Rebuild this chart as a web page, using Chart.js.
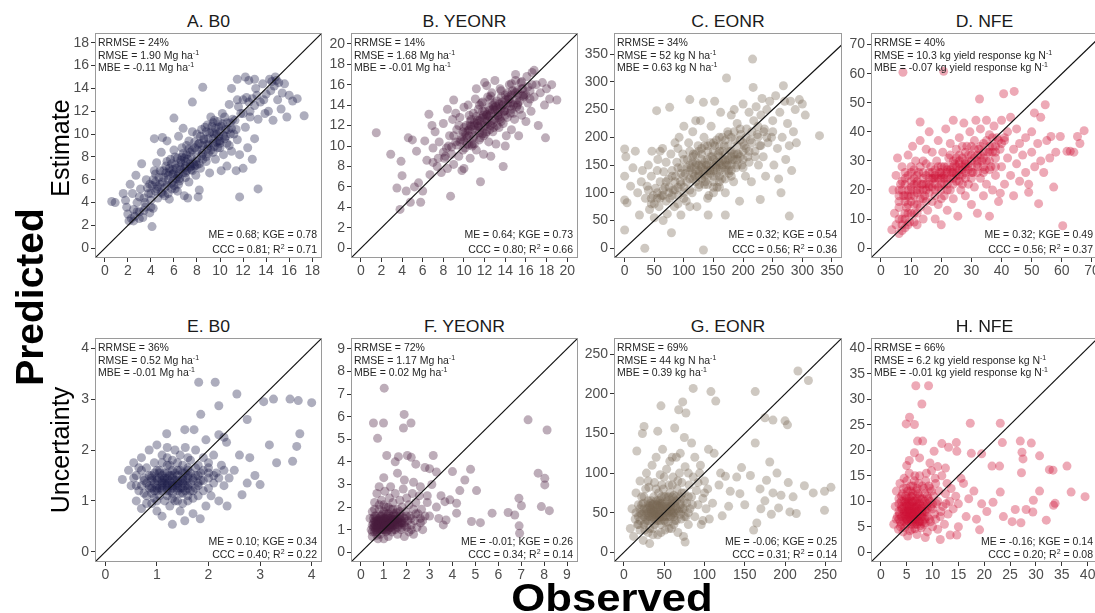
<!DOCTYPE html>
<html>
<head>
<meta charset="utf-8">
<script src="https://cdn.jsdelivr.net/npm/chart.js@4/dist/chart.umd.min.js"></script>
<style>
  body { margin:0; width:1095px; height:613px; overflow:hidden; background:#fff; position:relative;
         font-family:"Liberation Sans", Arial, Helvetica, sans-serif; }
  canvas { position:absolute; }
  .lbl { position:absolute; white-space:nowrap; line-height:1; color:#000; z-index:2; }
  .title { position:absolute; text-align:center; font-size:16px; line-height:16px; color:#1a1a1a; transform:scaleX(1.1); }
</style>
</head>
<body>
<script>
// ---- data (observed x, predicted y) ----
const titles = ['A. B0', 'B. YEONR', 'C. EONR', 'D. NFE', 'E. B0', 'F. YEONR', 'G. EONR', 'H. NFE'];

const ticksA = [0,2,4,6,8,10,12,14,16,18];
const ticksB = [0,2,4,6,8,10,12,14,16,18,20];
const ticksC = [0,50,100,150,200,250,300,350];
const ticksD = [0,10,20,30,40,50,60,70];
const ticksE = [0,1,2,3,4];
const ticksF = [0,1,2,3,4,5,6,7,8,9];
const ticksG = [0,50,100,150,200,250];
const ticksH = [0,5,10,15,20,25,30,35,40];

const notesTop = [
  ['RRMSE = 24%', 'RMSE = 1.90 Mg ha^-1^', 'MBE = -0.11 Mg ha^-1^'],
  ['RRMSE = 14%', 'RMSE = 1.68 Mg ha^-1^', 'MBE = -0.01 Mg ha^-1^'],
  ['RRMSE = 34%', 'RMSE = 52 kg N ha^-1^', 'MBE = 0.63 kg N ha^-1^'],
  ['RRMSE = 40%', 'RMSE = 10.3 kg yield response kg N^-1^', 'MBE = -0.07 kg yield response kg N^-1^'],
  ['RRMSE = 36%', 'RMSE = 0.52 Mg ha^-1^', 'MBE = -0.01 Mg ha^-1^'],
  ['RRMSE = 72%', 'RMSE = 1.17 Mg ha^-1^', 'MBE = 0.02 Mg ha^-1^'],
  ['RRMSE = 69%', 'RMSE = 44 kg N ha^-1^', 'MBE = 0.39 kg ha^-1^'],
  ['RRMSE = 66%', 'RMSE = 6.2 kg yield response kg N^-1^', 'MBE = -0.01 kg yield response kg N^-1^']
];
const notesBottom = [
  ['ME = 0.68; KGE = 0.78', 'CCC = 0.81; R^2^ = 0.71'],
  ['ME = 0.64; KGE = 0.73', 'CCC = 0.80; R^2^ = 0.66'],
  ['ME = 0.32; KGE = 0.54', 'CCC = 0.56; R^2^ = 0.36'],
  ['ME = 0.32; KGE = 0.49', 'CCC = 0.56; R^2^ = 0.37'],
  ['ME = 0.10; KGE = 0.34', 'CCC = 0.40; R^2^ = 0.22'],
  ['ME = -0.01; KGE = 0.26', 'CCC = 0.34; R^2^ = 0.14'],
  ['ME = -0.06; KGE = 0.25', 'CCC = 0.31; R^2^ = 0.14'],
  ['ME = -0.16; KGE = 0.14', 'CCC = 0.20; R^2^ = 0.08']
];

const ptsA = [[1.6,4.8],[1.8,4.2],[2.0,3.0],[2.1,2.4],[2.3,2.6],[2.5,3.4],[2.6,2.8],[2.8,4.0],[3.0,3.2],[3.1,5.2],[3.3,2.7],[3.4,4.4],[3.5,3.6],[3.6,6.0],[3.8,4.8],[3.9,3.1],[2.2,5.6],[2.7,6.4],[3.2,7.4],[2.4,4.8],[1.9,3.6],[4.0,4.2],[4.1,5.5],[4.2,3.5],[4.3,6.8],[0.6,4.1],[0.9,4.0],[4.1,1.9],
[4.4,5.0],[4.5,7.5],[4.6,4.4],[4.7,6.2],[4.8,5.6],[4.9,8.4],[5.0,4.8],[5.1,6.8],[5.2,5.3],[5.3,7.2],[5.4,9.4],[5.5,6.0],[5.6,4.3],[5.7,7.8],[5.8,5.7],[5.9,6.5],[6.0,8.6],[6.1,5.2],[6.2,7.0],[6.3,6.3],[6.4,9.8],[6.5,5.9],[6.6,7.5],[6.7,8.0],[6.8,6.6],[6.9,4.6],[7.0,7.2],[7.1,9.0],[7.2,7.8],[7.3,5.8],[7.4,8.4],[7.5,6.9],[7.6,10.2],[7.7,7.4],[7.8,8.8],[7.9,6.4],[8.0,7.9],[5.0,9.7],[4.3,9.6],[6.0,11.4],[6.8,10.5],[7.2,4.4],[8.2,5.1],[7.6,12.8],[8.5,14.1],[8.1,4.5],[5.5,4.8],[6.3,5.0],
[8.2,9.2],[8.3,7.0],[8.4,10.4],[8.5,8.3],[8.6,9.6],[8.8,7.6],[8.9,10.8],[9.0,9.0],[9.1,6.6],[9.2,8.6],[9.3,10.2],[9.4,9.6],[9.5,11.2],[9.6,7.8],[9.7,10.0],[9.8,8.8],[9.9,10.6],[10.0,9.4],[10.1,6.8],[10.2,10.9],[10.3,8.2],[10.4,11.5],[10.5,9.8],[10.6,7.2],[10.7,10.4],[10.8,9.0],[10.9,11.0],[11.0,8.5],[11.2,10.0],[11.4,6.8],[11.5,9.5],[11.7,8.2],[11.8,11.8],[12.0,7.0],[12.2,10.6],[12.4,8.8],[12.6,12.0],[12.8,7.8],[13.0,9.6],[13.3,5.2],[11.7,4.5],[10.8,12.6],[11.5,13.0],[11.5,14.8],
[12.0,13.0],[12.3,13.2],[12.6,11.5],[12.8,13.1],[13.0,12.5],[13.1,14.0],[13.3,11.3],[13.5,12.8],[13.7,14.4],[13.9,11.8],[14.0,13.5],[14.2,12.0],[14.3,14.8],[14.5,14.6],[14.6,11.2],[14.7,14.2],[14.8,15.0],[15.0,13.0],[15.1,14.5],[15.3,12.2],[15.4,13.6],[15.6,14.4],[15.8,11.5],[16.0,13.4],[16.3,12.9],[16.7,13.1],[17.3,11.6],[12.2,15.0],[12.5,14.7],[13.0,14.8],[11.0,14.0],[14.9,14.7],
[3.5,4.0],[4.0,4.8],[4.5,5.2],[5.0,5.8],[5.5,6.4],[6.0,6.6],[6.5,7.2],[7.0,7.6],[7.5,8.0],[8.0,8.6],[8.5,9.0],[9.0,9.6],[9.5,10.0],[10.0,10.2],[10.5,10.4],[4.2,6.0],[4.8,6.8],[5.4,7.6],[6.1,8.0],[6.7,8.8],[7.3,9.4],[8.0,10.0],[8.7,10.6],[9.4,11.0],[5.2,4.6],[5.8,5.2],[6.4,5.6],[7.0,6.2],[7.6,6.8],[8.2,7.4],[8.8,8.0],[9.4,8.4],[10.0,8.8],[10.6,9.2],[3.0,4.5],[3.7,5.3],[4.4,6.5],[5.6,7.0],[6.9,7.9],[7.8,7.2],[8.4,8.1],[9.7,9.3],[10.3,9.9],[11.0,10.5],[11.3,11.2],[2.5,2.4],[3.0,2.6],[6.2,6.1],[7.1,6.8],[5.9,6.9],[6.6,6.9],[7.4,7.4],[8.9,9.1],[9.9,9.8],
[4.6,5.4],[5.1,6.2],[5.6,6.7],[6.1,7.3],[6.6,7.7],[7.1,8.2],[7.6,8.6],[8.1,9.1],[8.6,9.5],[9.1,10.1],[9.6,10.5],[10.1,10.7],[10.6,11.0],[11.1,11.3],[4.9,4.9],[5.4,5.5],[5.9,5.9],[6.4,6.5],[6.9,7.0],[7.4,7.1],[7.9,7.6],[8.4,8.6],[8.9,8.7],[9.4,9.2],[9.9,9.4],[10.4,9.6],[10.9,10.0],[11.4,10.4],[3.9,5.6],[4.4,5.8],[5.3,6.6],[5.8,7.4],[6.3,7.9],[6.8,8.3],[7.3,8.7],[7.8,9.3],[8.3,9.8],[8.8,10.2],[9.3,10.7],[9.8,11.1],[6.0,5.5],[6.5,6.1],[7.0,6.6],[7.5,7.2],[8.0,7.3],[8.5,7.8],[9.0,8.3],[9.5,8.9],[10.0,9.2],[12.5,12.8],[13.2,13.4],[13.8,13.0],[14.4,13.8],[12.0,11.8],[11.6,12.4],[10.2,11.8],[9.2,11.5],[4.0,3.6],[3.4,3.3],[2.8,3.2]];

const ptsB = [[1.5,11.3],[2.9,9.2],[3.9,8.5],[4.0,7.1],[3.5,5.9],[3.8,3.8],[4.4,5.6],[4.8,4.5],[5.8,4.5],[5.2,6.0],[5.6,6.4],[6.0,5.6],[8.7,5.1],[11.6,6.5],[17.9,10.8],[9.0,14.5],[12.2,15.9],[6.6,13.1],[4.6,10.8],[5.0,10.6],[5.4,9.5],[6.2,10.5],[6.4,8.6],[6.7,7.2],[6.9,12.0],[7.2,11.4],[7.0,9.8],[7.4,8.0],[7.6,10.4],[7.8,7.4],[8.0,12.2],[8.1,8.8],[8.3,9.8],[8.4,7.8],[8.6,11.0],[8.8,9.2],[8.9,12.6],[9.0,8.2],[9.2,10.4],[9.3,11.6],[9.5,9.0],[9.6,12.8],[9.7,10.6],[9.8,7.6],[9.9,11.4],[10.0,13.8],[10.1,9.8],[10.2,12.0],[10.3,10.8],[10.4,14.0],[10.5,11.6],[10.6,8.8],[10.7,12.6],[10.8,10.2],[10.9,13.2],[11.0,11.0],[11.1,14.6],[11.2,9.6],[11.3,12.2],[11.4,13.6],[11.5,10.6],[11.6,11.8],[11.7,14.2],[11.8,12.8],[11.9,9.2],[12.0,13.4],[12.1,11.2],[12.2,12.4],[12.3,14.8],[12.4,10.4],[12.5,13.0],[12.6,12.0],[12.7,15.2],[12.8,11.4],[12.9,13.8],[13.0,12.6],[13.1,10.2],[13.2,14.4],[13.3,13.0],[13.4,11.8],[13.5,15.6],[13.6,12.4],[13.7,14.0],[13.8,8.0],[13.9,13.4],[14.0,15.0],[14.1,11.0],[14.2,12.8],[14.3,14.6],[14.4,16.0],[14.5,13.2],[14.6,11.6],[14.7,15.4],[14.8,14.0],[14.9,12.6],[15.0,16.4],[15.1,13.8],[15.2,15.0],[15.3,11.0],[15.4,14.4],[15.5,16.2],[15.6,13.0],[15.7,15.6],[15.8,14.8],[16.0,12.4],[16.1,16.8],[16.2,14.2],[16.4,15.4],[16.5,13.4],[16.6,17.2],[16.8,14.8],[17.0,16.0],[17.2,12.0],[17.4,15.2],[17.6,16.2],[17.8,14.0],[18.0,15.6],[18.3,14.6],[18.5,16.0],[19.0,14.5],[12.0,16.2],[11.2,15.6],[10.0,7.8],[12.6,9.0],[14.0,10.0],[9.2,13.2],[8.4,13.6],[13.0,16.4],[15.0,17.0],[16.8,17.4],[11.0,12.0],[12.0,12.0],[13.0,13.5],[14.0,13.5],[10.5,11.0],[11.5,12.5],[12.5,11.6],[13.5,12.6],[14.5,14.2],[12.2,13.0],[11.8,11.2],[13.2,12.0],[10.0,10.5],[12.8,14.0],[15.2,14.0],
[10.0,11.8],[10.6,12.4],[11.2,12.9],[11.8,13.4],[12.4,13.8],[13.0,14.2],[13.6,14.8],[14.2,15.2],[9.6,10.4],[10.2,11.0],[10.8,11.6],[11.4,12.0],[12.0,12.6],[12.6,13.2],[13.2,13.6],[13.8,14.0],[14.4,14.6],[15.0,15.2],[15.6,15.6],[11.0,10.2],[11.6,10.8],[12.2,11.4],[12.8,12.2],[13.4,12.8],[14.0,13.0],[14.6,13.6],[15.2,14.2],[15.8,15.0],[9.0,11.0],[9.5,12.0],[10.5,13.0],[11.5,14.0],[12.5,14.6],[8.5,10.0],[8.0,9.4],[7.5,8.8],[7.0,8.4],[16.2,15.8],[16.6,16.0],[12.3,12.2],[13.3,13.3],[14.3,14.2],[11.3,11.5],[10.3,10.2],
[10.1,11.3],[10.7,11.9],[11.3,12.5],[11.9,13.0],[12.5,13.5],[13.1,13.9],[13.7,14.3],[14.3,14.8],[14.9,15.3],[9.8,10.9],[10.4,11.5],[11.0,12.3],[11.6,12.7],[12.2,13.1],[12.8,13.6],[13.4,14.1],[14.0,14.5],[14.6,15.0],[15.2,15.5],[10.9,10.8],[11.5,11.3],[12.1,11.9],[12.7,12.5],[13.3,12.9],[13.9,13.4],[14.5,13.9],[15.1,14.5],[15.7,14.9],[9.3,10.1],[9.9,9.6],[10.5,10.1],[8.8,9.9],[8.2,9.0],[11.8,14.3],[12.6,14.9],[13.6,15.4],[14.6,16.1],[15.6,16.3],[16.4,14.6],[16.0,15.0],[13.8,12.2],[12.9,11.8],[11.9,11.0],[10.8,10.0],[14.8,13.2],[15.4,13.6],[12.4,12.9],[13.6,13.7],[11.4,11.9],[10.6,12.0]];

const ptsC = [[0,33],[0,87],[0,179],[2,165],[0,130],[4,82],[10,112],[14,145],[18,175],[22,100],[25,60],[28,120],[30,140],[34,0],[35,90],[38,112],[40,150],[42,70],[45,130],[46,175],[48,95],[50,55],[52,108],[54,248],[55,140],[56,160],[58,75],[60,120],[62,95],[64,180],[65,50],[66,138],[68,110],[70,155],[72,62],[74,125],[76,254],[76,90],[78,170],[79,28],[80,140],[82,105],[84,75],[85,190],[86,130],[88,155],[90,95],[92,200],[94,120],[95,60],[96,145],[98,170],[100,110],[100,220],[102,135],[104,85],[106,160],[108,190],[110,268],[110,125],[112,145],[114,100],[115,210],[116,170],[118,130],[120,155],[122,75],[124,185],[125,140],[126,115],[128,230],[130,160],[132,135],[133,263],[133,-3],[134,200],[136,120],[138,150],[140,175],[141,60],[142,95],[144,140],[146,220],[148,165],[150,130],[152,265],[152,185],[154,150],[156,110],[158,170],[160,200],[161,140],[162,245],[164,125],[166,160],[168,185],[170,100],[172,307],[172,150],[174,210],[176,135],[178,175],[180,240],[182,160],[184,120],[186,195],[188,145],[190,225],[192,170],[194,85],[196,205],[198,150],[200,260],[202,185],[204,130],[206,215],[208,165],[210,245],[212,195],[214,120],[216,341],[217,290],[218,230],[220,175],[222,255],[224,205],[226,150],[228,185],[229,88],[230,240],[232,270],[234,165],[236,215],[238,130],[240,250],[242,190],[245,265],[248,200],[250,230],[252,150],[255,275],[258,180],[260,125],[262,245],[264,100],[266,200],[268,293],[270,265],[272,160],[275,225],[278,58],[278,185],[280,265],[282,140],[285,210],[288,250],[290,190],[295,268],[300,260],[305,240],[329,203],[60,175],[90,180],[110,75],[140,90],[170,60],[185,250],[120,230],[150,100],[130,170],[160,120],[145,145],[135,140],[155,155],[165,145],[125,130],[175,160],[115,155],[140,115],[150,175],[180,140],
[100,130],[110,140],[120,150],[130,150],[140,160],[150,160],[160,165],[170,170],[180,175],[190,185],[200,190],[140,130],[150,140],[160,150],[170,155],[130,125],[120,120],[110,105],[100,100],[90,110],[80,95],[70,85],[60,90],[50,80],[115,165],[125,175],[135,185],[145,190],[155,195],[165,200],[175,205],[185,210],[195,215],[205,200],[215,210],[225,220],[210,175],[200,160],[190,150],[180,130],[170,125],[160,110],[150,120],[140,150],[155,135],[145,165],[135,155],[165,175],[175,140],[185,170],[125,150],[115,135],[105,145],[95,135],[85,120],[75,110],[65,105],[55,100],[45,90],[40,105],
[110,150],[120,140],[130,145],[140,140],[150,150],[160,155],[170,160],[180,165],[190,170],[200,175],[105,120],[115,125],[125,135],[135,130],[145,135],[155,145],[165,150],[175,150],[185,160],[195,165],[205,180],[215,190],[225,200],[235,210],[130,180],[140,185],[150,190],[160,185],[170,195],[180,200],[95,115],[85,105],[75,100],[65,95],[55,90],[45,80],[100,160],[90,145],[80,130],[70,120],[120,170],[110,175],[150,110],[160,130],[170,140],[180,150],[190,160],[200,145],[210,155],[220,165],[240,200],[250,210],[230,185],[125,110],[135,115],[100,90],[90,80],[160,175],[175,185],[195,195]];

const ptsD = [[7.3,60.5],[20.8,60.8],[32.7,51.3],[40.7,53.1],[44.2,53.9],[50.9,46.5],[54.5,49.3],[56.4,38.4],[59.5,38.4],[61.7,33.3],[65.2,38.4],[67.4,40.4],[62.8,33.3],[60.3,7.7],[52.3,15.3],[57.3,21.0],[13,43.4],[39.6,18.9],[49,19.2],[3.6,6.3],
[4,20],[4.5,12],[5,8],[5,25],[5.5,31],[6,16],[6,5],[6.5,22],[7,10],[7,28],[7.5,18],[8,7],[8,24],[8.5,14],[9,32],[9,20],[9.5,9],[10,26],[10,16],[10.5,35],[11,12],[11,22],[11.5,30],[12,8],[12,19],[12.5,26],[13,14],[13,37],[13.5,22],[14,10],[14,30],[14.5,18],[15,25],[15,34],[15.5,13],[16,21],[16,40],[16.5,28],[17,16],[17,33],[17.5,24],[18,10],[18,20],[18.5,30],[19,37],[19,15],[19.5,26],[20,22],[20,8],[20.5,33],[21,18],[21,28],[21.5,41],[22,24],[22,13],[22.5,31],[23,20],[23,36],[23.5,26],[24,17],[24,44],[24.5,29],[25,23],[25,34],[25.5,11],[26,27],[26,38],[26.5,20],[27,31],[27,25],[27.5,43],[28,18],[28,29],[28.5,35],[29,22],[29,27],[29.5,40],[30,32],[30,15],[30.5,26],[31,37],[31,21],[31.5,44],[32,29],[32,12],[32.5,34],[33,24],[33,41],[33.5,30],[34,18],[34,36],[34.5,27],[35,44],[35,22],[35.5,33],[36,39],[36,11],[36.5,28],[37,35],[37,20],[37.5,42],[38,31],[38,25],[38.5,38],[39,16],[39.5,34],[40,28],[40,44],[41,22],[41,37],[42,31],[42,40],[43,25],[43,45],[44,34],[44,18],[45,29],[45,41],[46,36],[46,23],[47,32],[48,38],[48,26],[49,22],[50,33],[50,40],[51,28],[52,36],[53,30],[53,45],[54,26],[55,37],[56,31],[58,33],[64,33],[66,36],[8,22],[10,21],[12,23],[14,24],[6,20],[9,12],[11,18],[15,20],[20,25],[25,28],[28,26],[30,28],[26,32],[24,22],[22,27],[18,25],
[10,18],[12,20],[14,22],[16,24],[18,22],[20,26],[22,28],[24,26],[26,30],[28,30],[30,30],[32,32],[34,31],[36,33],[38,35],[40,36],[8,16],[9,25],[11,27],[13,28],[15,29],[17,26],[19,24],[21,22],[23,24],[25,26],[27,28],[29,32],[31,34],[33,35],[35,37],[37,38],[12,15],[14,17],[16,19],[18,18],[20,20],[22,20],[24,24],[26,25],[28,24],[30,24],[32,26],[34,28],[36,30],[38,28],[10,23],[7,20],[6,14],[8,12],[9,8],[11,9],[7,6],[23,32],[27,35],[25,31],[21,25],[19,28],[17,21],[15,16],
[8,18],[10,20],[12,22],[14,26],[16,26],[18,27],[20,24],[22,26],[24,28],[26,29],[28,28],[30,26],[32,30],[34,33],[36,35],[38,33],[7,23],[9,18],[11,24],[13,20],[15,22],[17,24],[19,21],[21,24],[23,27],[25,25],[27,27],[29,29],[31,31],[33,32],[35,30],[37,33],[39,37],[41,38],[6,18],[8,26],[10,28],[12,25],[14,20],[16,22],[18,24],[20,28],[22,22],[24,30],[26,23],[28,33],[30,35],[32,28],[34,26],[36,27],[6,10],[7,8],[8,10],[9,15],[10,12],[11,15],[13,17],[12,12],[20,17],[27,22]];

const ptsE = [[1.81,3.33],[2.13,3.33],[2.55,3.1],[2.2,2.87],[1.85,2.7],[2.75,2.6],[3.07,2.95],[3.26,3.0],[3.58,3.0],[3.74,2.97],[4.0,2.93],[3.77,2.32],[3.71,2.07],[3.32,1.75],[3.63,1.78],[3.18,2.1],[3.0,1.32],[2.65,1.12],[2.36,0.9],[1.3,0.54],[1.54,0.61],[1.84,0.65],[0.33,1.42],[1.72,2.4],[1.54,2.4],[1.19,2.32],[1.95,2.2],[2.3,2.25],[2.35,2.15],[2.2,2.3],[2.6,1.9],[2.8,1.85],[2.9,1.5],[2.75,1.35],[2.5,1.6],[2.4,1.45],
[0.45,1.6],[0.5,1.3],[0.55,1.75],[0.6,1.0],[0.6,1.5],[0.65,1.2],[0.7,1.85],[0.7,0.85],[0.75,1.4],[0.8,1.1],[0.8,1.65],[0.85,1.3],[0.85,2.0],[0.9,0.95],[0.9,1.5],[0.95,1.2],[0.95,1.75],[1.0,1.4],[1.0,0.8],[1.0,2.1],[1.05,1.1],[1.05,1.6],[1.1,1.3],[1.1,1.9],[1.1,0.7],[1.15,1.45],[1.15,1.0],[1.2,1.7],[1.2,1.25],[1.2,2.05],[1.25,0.9],[1.25,1.5],[1.3,1.15],[1.3,1.8],[1.3,1.35],[1.35,2.0],[1.35,1.0],[1.4,1.6],[1.4,1.25],[1.45,0.8],[1.45,1.4],[1.45,1.9],[1.5,1.15],[1.5,1.7],[1.55,1.3],[1.55,2.05],[1.6,1.0],[1.6,1.5],[1.65,1.8],[1.65,1.2],[1.7,1.4],[1.7,0.75],[1.75,1.65],[1.75,2.0],[1.8,1.1],[1.8,1.35],[1.85,1.55],[1.9,1.85],[1.9,1.2],[1.95,0.9],[2.0,1.45],[2.0,1.65],[2.05,1.1],[2.1,1.9],[2.1,1.35],[2.15,1.55],[2.2,1.0],[2.25,1.7],[2.3,1.3],[1.0,1.2],[1.1,1.35],[1.2,1.3],[1.3,1.45],[1.4,1.35],[1.5,1.4],[1.25,1.2],[1.15,1.55],[0.9,1.25],[1.35,1.55],[1.6,1.3],[1.05,1.45],[1.45,1.15],[1.25,1.7],[0.75,1.15],[0.95,1.05],[1.75,1.25],[1.55,1.55],[1.85,1.4],[0.6,1.3],[0.7,1.6],
[0.8,1.35],[0.9,1.45],[1.0,1.3],[1.1,1.5],[1.2,1.45],[1.3,1.25],[1.4,1.5],[1.5,1.25],[1.6,1.65],[1.7,1.2],[1.8,1.5],[1.9,1.4],[2.0,1.25],[1.0,1.6],[1.1,1.2],[1.2,1.55],[1.3,1.6],[1.4,1.2],[1.5,1.55],[1.6,1.45],[0.9,1.15],[0.7,1.3],[1.15,1.35],[1.25,1.4],[1.35,1.3],[1.45,1.6],[1.55,1.2],[1.65,1.35],[1.75,1.5],[0.85,1.5],[0.95,1.35],[1.05,1.25],[1.2,1.1],[1.3,1.05],[1.4,1.0],[1.5,0.95],[1.6,1.1],[1.7,1.05],[1.0,1.0],[0.8,0.95],[1.1,1.75],[1.2,1.85],[1.4,1.75],[1.6,1.85],[1.8,1.7],[2.0,1.75],[2.2,1.45],[2.3,1.6],[0.55,1.45],[0.65,1.65],
[0.9,1.4],[1.0,1.45],[1.1,1.4],[1.2,1.35],[1.3,1.3],[1.4,1.4],[1.5,1.35],[1.6,1.25],[1.7,1.45],[1.8,1.3],[1.0,1.25],[1.1,1.25],[1.2,1.2],[1.3,1.5],[1.4,1.3],[1.5,1.45],[1.6,1.6],[1.25,1.3],[1.35,1.4],[1.15,1.4],[0.95,1.55],[1.05,1.55],[1.45,1.25],[1.55,1.4],[1.65,1.55],[0.85,1.25],[0.75,1.45],[1.9,1.6],[2.0,1.55],[2.1,1.5]];

const ptsF = [[1.02,7.26],[0.55,5.72],[0.99,5.72],[0.73,5.04],[1.89,6.1],[1.86,5.5],[2.19,5.72],[1.13,4.28],[1.64,4.23],[2.03,4.28],[3.16,4.28],[4.0,3.57],[4.54,3.2],[4.79,3.67],[4.32,2.73],[5.05,2.73],[5.22,1.31],[4.83,1.36],[5.73,1.73],[6.43,1.76],[6.72,1.65],[6.9,2.39],[7.01,2.06],[6.91,1.17],[6.93,0.84],[7.3,5.86],[8.13,5.41],[7.74,3.5],[8.03,3.27],[8.03,2.98],[7.88,2.02],[8.23,1.84],[3.67,2.24],[3.89,2.32],[4.18,2.17],[4.18,1.73],[3.72,1.43],[3.6,1.21],
[2.2,4.2],[1.5,4.0],[2.4,3.9],[2.8,3.75],[3.0,3.7],[3.3,3.55],[1.6,3.5],[1.0,3.3],[1.9,3.2],[2.3,3.1],[0.8,2.9],[1.3,2.9],[2.6,2.9],[3.1,3.0],[3.5,2.5],[3.3,2.0],[3.0,1.6],[3.4,1.5],[2.9,2.2],[2.7,1.4],
[0.4,1.5],[0.45,1.0],[0.5,1.8],[0.5,0.7],[0.55,1.3],[0.6,2.2],[0.6,0.9],[0.65,1.6],[0.7,1.1],[0.7,2.6],[0.75,1.4],[0.75,0.6],[0.8,1.9],[0.8,1.2],[0.85,0.8],[0.85,1.6],[0.9,2.3],[0.9,1.0],[0.95,1.4],[1.0,1.8],[1.0,0.6],[1.0,1.2],[1.05,2.7],[1.05,1.5],[1.1,0.9],[1.1,2.0],[1.15,1.3],[1.2,1.7],[1.2,0.7],[1.25,2.4],[1.25,1.1],[1.3,1.5],[1.3,1.9],[1.35,0.9],[1.4,1.3],[1.4,2.2],[1.45,1.7],[1.5,1.0],[1.5,2.6],[1.55,1.4],[1.6,1.9],[1.6,0.8],[1.65,1.2],[1.7,2.3],[1.7,1.6],[1.75,1.0],[1.8,2.0],[1.8,1.3],[1.85,2.8],[1.9,1.5],[1.9,0.7],[1.95,1.8],[2.0,1.1],[2.0,2.4],[2.05,1.4],[2.1,0.9],[2.1,2.1],[2.15,1.6],[2.2,1.2],[2.25,2.6],[2.3,1.9],[2.3,0.8],[2.35,1.4],[2.4,2.2],[2.45,1.1],[2.5,1.7],[2.55,2.5],[2.6,1.3],[2.65,1.9],[2.7,1.0],[2.8,1.6],[2.9,2.5],[0.6,1.2],[0.7,1.4],[0.8,1.0],[0.9,1.3],[1.0,1.5],[1.1,1.1],[1.2,1.4],[1.3,1.2],[1.4,1.6],[1.5,1.3],[0.65,1.0],[0.95,1.7],[1.15,1.6],[1.35,1.1],[0.55,1.5],[0.85,1.2],[1.05,1.0],[1.25,1.3],[1.45,1.45],[1.65,1.5],[1.75,1.3],
[0.6,1.1],[0.7,1.3],[0.8,1.5],[0.9,1.1],[1.0,1.3],[1.1,1.45],[1.2,1.2],[1.3,1.4],[1.4,1.0],[1.5,1.2],[1.6,1.45],[1.7,1.3],[1.8,1.1],[1.9,1.3],[2.0,1.6],[0.5,1.2],[0.6,1.6],[0.7,0.9],[0.8,1.3],[0.9,1.6],[1.0,1.0],[1.1,1.7],[1.2,1.0],[1.3,1.6],[1.4,1.45],[1.5,1.6],[1.6,1.1],[1.7,1.8],[1.8,1.6],[0.75,1.2],[0.85,1.4],[0.95,1.2],[1.05,1.35],[1.15,0.95],[1.25,1.5],[1.35,1.25],[1.45,1.2],[1.55,1.75],[0.65,1.35],[1.0,2.1],[1.2,2.0],[1.4,1.9],[0.8,2.1],[0.6,1.9],[2.2,1.5],[2.4,1.7],[2.6,1.5],[2.2,1.0],[0.5,0.9],[0.7,0.75],
[0.7,1.2],[0.8,1.25],[0.9,1.2],[1.0,1.25],[1.1,1.2],[1.2,1.3],[1.3,1.3],[1.4,1.2],[1.5,1.4],[0.6,1.4],[0.7,1.5],[0.8,1.4],[0.9,1.45],[1.0,1.4],[1.1,1.3],[1.2,1.5],[1.3,1.1],[1.4,1.4],[0.75,1.0],[0.85,1.05],[0.95,1.0],[1.05,1.15],[1.15,1.15],[1.25,1.25],[0.55,1.1],[0.65,1.2],[1.6,1.35],[1.7,1.5],[1.8,1.4],[1.9,1.2]];

const ptsG = [[216,229],[229,217],[86,207],[108,203],[114,191],[163,203],[46,185],[73,190],[68,180],[77,176],[63,157],[16,128],[25,159],[23,150],[42,153],[84,138],[163,138],[175,170],[185,167],[200,166],[203,161],[181,114],[146,107],[157,97],[190,100],[177,91],[169,80],[204,88],[224,84],[235,75],[249,77],[257,82],[249,53],[165,37],[161,28],[150,60],[192,56],[206,51],[214,49],[144,74],[132,77],[126,96],[122,46],[76,13],[32,11],
[185,75],[195,72],[210,70],[175,65],[170,55],[183,48],[140,95],[130,58],[118,85],[112,125],[120,100],[105,130],[100,75],[95,110],[110,62],[98,40],[88,120],[92,88],[80,100],[75,145],[70,125],[60,120],
[8,30],[10,55],[12,20],[14,42],[15,75],[17,35],[18,60],[20,28],[20,90],[22,48],[24,15],[25,70],[26,38],[28,100],[28,55],[30,25],[31,82],[32,45],[34,65],[35,110],[36,30],[37,52],[38,88],[40,40],[40,120],[41,60],[42,22],[43,75],[44,48],[45,98],[46,35],[47,62],[48,130],[49,80],[50,45],[51,28],[52,70],[53,105],[54,55],[55,38],[56,85],[57,115],[58,62],[59,30],[60,48],[61,95],[62,72],[63,40],[64,58],[65,120],[66,80],[67,25],[68,52],[69,100],[70,65],[71,42],[72,88],[73,55],[74,20],[75,75],[76,108],[77,45],[78,62],[80,35],[81,85],[82,55],[84,70],[86,95],[88,45],[90,78],[92,60],[94,100],[96,35],[98,68],[100,90],[102,55],[104,80],[106,42],[30,50],[35,45],[40,55],[45,50],[50,60],[25,45],[30,65],[38,35],[42,65],[48,52],[55,50],[60,60],[33,55],[28,40],[45,40],[52,45],[36,60],[22,60],[58,45],[65,65],[18,45],[44,58],[39,48],[47,70],[62,50],
[20,40],[25,50],[30,45],[35,55],[40,50],[45,55],[50,50],[55,60],[60,55],[65,50],[70,60],[75,55],[80,50],[20,55],[25,35],[30,60],[35,40],[40,65],[45,45],[50,70],[55,45],[60,70],[65,40],[70,48],[75,65],[80,70],[85,60],[15,50],[18,35],[22,70],[27,80],[32,30],[37,70],[42,40],[47,85],[52,38],[57,75],[62,35],[67,90],[72,75],[28,48],[33,62],[38,42],[43,52],[48,45],[53,58],[58,52],[63,62],[34,50],[44,62],[54,65],[24,62],[26,28],[36,22],[46,25],[56,30],[40,80],[50,95],[30,90],[60,85],
[30,55],[35,50],[40,45],[45,60],[50,55],[55,55],[60,50],[65,55],[70,55],[40,60],[35,60],[30,40],[25,55],[45,65],[50,40],[55,70],[60,65],[65,70],[70,70],[75,45],[20,50],[38,52],[42,48],[48,58],[52,52],[58,58],[62,45],[44,44],[36,48],[32,58]];

const ptsH = [[6.77,32.65],[9.23,32.65],[7.94,29.07],[5.55,26.47],[4.9,25.17],[6.5,25.04],[17.3,25.3],[23.1,25.3],[7.1,21.8],[8.1,21.8],[11.8,21.3],[13.1,20.6],[14.7,19.8],[10.3,19.8],[14.6,21.5],[23.5,21.5],[26.97,21.8],[29.1,21.4],[21.5,16.9],[22.97,16.9],[27.3,19.6],[27.5,18.3],[30.7,18.9],[36,16.9],[32.6,16.2],[33.3,16.1],[27.2,15.6],[30.7,12.0],[36.8,11.8],[39.5,10.9],[33.7,9.6],[33.4,9.2],[29.5,10.2],[29.4,7.9],[28.1,8.4],[32.0,6.3],[27.1,5.8],[25.4,6.0],[23.7,7.0],[26.0,8.4],[23.1,11.8],[21.7,9.8],[19.1,4.4],[13.4,3.4],[14.7,3.4],[11.5,2.5],[8.6,2.9],
[17.5,19.4],[19.5,19.3],[18.0,12.0],[19.5,9.5],[20.5,8.0],[17.0,10.5],[16.0,13.5],[15.5,14.5],[16.5,7.0],[18.5,6.5],[15.0,5.0],[12.5,16.5],[11.0,16.8],[9.5,17.5],[5.5,18.0],[6.5,19.5],[7.5,18.5],[5.0,17.0],
[2.5,5.5],[2.8,9.0],[3.0,12.0],[3.2,7.0],[3.4,4.5],[3.5,10.5],[3.7,13.5],[3.8,6.0],[4.0,8.5],[4.2,11.5],[4.3,4.0],[4.5,14.5],[4.6,7.0],[4.8,9.8],[5.0,5.5],[5.0,12.5],[5.2,3.2],[5.3,8.0],[5.5,15.5],[5.5,10.5],[5.7,6.5],[5.8,13.0],[6.0,4.5],[6.0,9.0],[6.2,11.5],[6.3,7.5],[6.5,14.0],[6.6,5.5],[6.8,10.0],[7.0,3.5],[7.0,12.5],[7.2,8.0],[7.4,6.0],[7.5,15.0],[7.6,10.5],[7.8,4.8],[8.0,13.0],[8.0,7.0],[8.2,9.5],[8.4,5.5],[8.5,11.5],[8.7,14.0],[8.8,8.0],[9.0,4.0],[9.2,10.5],[9.4,6.5],[9.5,12.5],[9.7,9.0],[9.8,16.0],[10.0,5.0],[10.2,11.0],[10.4,7.5],[10.6,13.5],[10.8,9.5],[11.0,4.5],[11.2,12.0],[11.5,7.0],[11.8,15.0],[12.0,9.0],[12.3,5.5],[12.5,11.5],[12.8,13.5],[13.0,7.5],[13.3,10.0],[13.6,12.5],[14.0,8.5],[14.5,11.0],[15.0,9.5],[4.5,8.0],[5.0,7.5],[5.5,8.5],[6.0,7.0],[6.5,8.0],[7.0,9.0],[7.5,7.5],[5.5,6.0],[6.5,10.0],[4.0,10.0],[7.0,6.5],[8.0,9.0],[6.0,11.0],[5.0,9.5],[3.5,8.0],[7.5,11.0],[6.8,6.0],[4.8,6.5],[9.0,8.5],[8.5,6.5],
[4,7],[4.5,9],[5,6.5],[5.5,7.5],[6,8.5],[6.5,6.5],[7,8],[7.5,9.5],[8,7.5],[8.5,9],[9,7],[9.5,10],[10,8.5],[3.5,9.5],[4,11],[4.5,6],[5,10.5],[5.5,9],[6,6],[6.5,9],[7,10.5],[7.5,6],[8,10.5],[8.5,8],[9,11],[10,9.5],[11,10],[3,6.5],[3.8,5],[4.2,8.5],[5.2,12],[5.8,11],[6.2,13],[6.8,12],[7.3,13.5],[8.3,12.5],[9.3,13],[4.6,4.8],[5.6,4.2],[6.6,4.6],[7.6,5.2],[8.6,5.8],[9.6,6],[10.6,6.5],[11.6,8],[12.6,9.5],[4.8,7.2],[5.4,8.2],[6.4,7.2],[7.2,7],[6.2,9.8],[5.3,10],[7.8,8.6],[3.6,7.5],[4.4,12.5],[5,14],[6.6,15],[8.8,15.5],[10.5,14.5],[9.8,12],
[4.5,7.5],[5,8],[5.5,7],[6,7.5],[6.5,8.5],[7,7.5],[7.5,8.5],[8,8],[5,9],[5.5,9.5],[6,10],[6.5,7],[7,9.5],[4,9],[4.5,10],[6,5.5],[7,5.5],[8,6],[5.2,6.2],[6.2,6.3],[3.5,6.5],[4,5.5],[8.5,10],[9,9.5],[7.2,11.5],[5.8,12],[4.8,11],[6.8,8.8],[5.8,8],[7.8,7]];

// ---- layout ----
const FONT = '"Liberation Sans", Arial, Helvetica, sans-serif';
const COLS = [[95,322],[351,578],[614,842],[871,1098]];
const ROWS = [[33,258],[338,562]];
const Y_W = 40, PAD_T = 14, PAD_R = 14, X_H = 26;
const BOTTOM_BASE = [[-20,-5],[-17,-4]];

const colB0 = 'rgba(28,28,72,0.36)';
const colYEONR = 'rgba(72,28,60,0.36)';
const colEONR = 'rgba(120,102,84,0.36)';
const colNFE = 'rgba(204,18,52,0.36)';

const panels = [
  {pts:ptsA, color:colB0,    xr:[-0.85,18.85], yr:[-0.85,18.85], ticks:ticksA},
  {pts:ptsB, color:colYEONR, xr:[-0.95,21.05], yr:[-0.95,21.05], ticks:ticksB},
  {pts:ptsC, color:colEONR,  xr:[-18,367],     yr:[-17.5,388],   ticks:ticksC},
  {pts:ptsD, color:colNFE,   xr:[-3.3,72.0],   yr:[-3.4,74.0],   ticks:ticksD},
  {pts:ptsE, color:colB0,    xr:[-0.2,4.2],    yr:[-0.2,4.2],    ticks:ticksE},
  {pts:ptsF, color:colYEONR, xr:[-0.43,9.48],  yr:[-0.43,9.48],  ticks:ticksF},
  {pts:ptsG, color:colEONR,  xr:[-12.3,270.7], yr:[-12.3,270.7], ticks:ticksG},
  {pts:ptsH, color:colNFE,   xr:[-1.9,42],     yr:[-1.9,42],     ticks:ticksH}
];

function drawRich(ctx, str, x, y, align) {
  const parts = str.split('^');
  const fonts = parts.map((_, i) => (i % 2 ? '7px ' : '10.5px ') + FONT);
  const widths = parts.map((t, i) => { ctx.font = fonts[i]; return ctx.measureText(t).width; });
  let cx = align === 'right' ? x - widths.reduce((a, b) => a + b, 0) : x;
  ctx.textAlign = 'left';
  ctx.textBaseline = 'alphabetic';
  parts.forEach((t, i) => {
    ctx.font = fonts[i];
    ctx.fillText(t, cx, i % 2 ? y - 4 : y);
    cx += widths[i];
  });
}

function decor(top, bottom, row) {
  return {
    id: 'decor',
    afterDraw(chart) {
      const { ctx, chartArea: a } = chart;
      ctx.save();
      ctx.strokeStyle = '#9a9a9a';
      ctx.lineWidth = 1;
      ctx.strokeRect(a.left + 0.5, a.top + 0.5, a.right - a.left - 1, a.bottom - a.top - 1);
      ctx.fillStyle = '#262626';
      top.forEach((ln, i) => drawRich(ctx, ln, a.left + 3, a.top + 13 + i * 12.5, 'left'));
      bottom.forEach((ln, i) => drawRich(ctx, ln, a.right - 5, a.bottom + BOTTOM_BASE[row][i], 'right'));
      ctx.restore();
    }
  };
}

function axis(range, ticks, isX) {
  return {
    type: 'linear', min: range[0], max: range[1],
    afterBuildTicks: s => { s.ticks = ticks.map(v => ({ value: v })); },
    afterFit: s => { if (isX) s.height = X_H; else s.width = Y_W; },
    grid: { display: true, drawOnChartArea: false, drawTicks: true, tickLength: 4, color: '#333' },
    border: { display: false },
    ticks: { autoSkip: false, maxRotation: 0, minRotation: 0, padding: isX ? 1 : 2,
             color: '#4d4d4d', font: { family: FONT, size: 14 } }
  };
}

panels.forEach((p, i) => {
  const row = Math.floor(i / 4), col = i % 4;
  const [L, R] = COLS[col], [T, B] = ROWS[row];
  const w = R - L + Y_W + PAD_R, h = B - T + PAD_T + X_H;

  const t = document.createElement('div');
  t.className = 'title';
  t.textContent = titles[i];
  Object.assign(t.style, { left: L + 'px', width: (R - L) + 'px', top: (T - 19) + 'px' });
  document.body.appendChild(t);

  const cv = document.createElement('canvas');
  cv.width = w; cv.height = h;
  Object.assign(cv.style, { left: (L - Y_W) + 'px', top: (T - PAD_T) + 'px', width: w + 'px', height: h + 'px' });
  document.body.appendChild(cv);

  const lo = Math.min(p.xr[0], p.yr[0]), hi = Math.max(p.xr[1], p.yr[1]);
  new Chart(cv, {
    type: 'scatter',
    data: { datasets: [
      { type: 'line', data: [{ x: lo, y: lo }, { x: hi, y: hi }], borderColor: '#111', borderWidth: 1.2, pointRadius: 0, order: 0 },
      { data: p.pts.map(([x, y]) => ({ x, y })), backgroundColor: p.color, borderWidth: 0, pointRadius: 4.5, order: 1 }
    ] },
    options: {
      responsive: false, animation: false, events: [], devicePixelRatio: 1,
      layout: { padding: { top: PAD_T, right: PAD_R, left: 0, bottom: 0 } },
      scales: { x: axis(p.xr, p.ticks, true), y: axis(p.yr, p.ticks, false) },
      plugins: { legend: { display: false }, tooltip: { enabled: false } }
    },
    plugins: [decor(notesTop[i], notesBottom[i], row)]
  });
});

// ---- axis titles ----
function addLabel(text, cx, cy, size, bold, rotate, sx) {
  const d = document.createElement('div');
  d.className = 'lbl';
  d.textContent = text;
  d.style.fontSize = size + 'px';
  d.style.fontWeight = bold ? 'bold' : 'normal';
  d.style.left = cx + 'px';
  d.style.top = cy + 'px';
  d.style.transform = 'translate(-50%,-50%)' + (rotate ? ' rotate(-90deg)' : '') + (sx ? ' scaleX(' + sx + ')' : '');
  document.body.appendChild(d);
}
addLabel('Estimate', 60, 148, 25, false, true);
addLabel('Uncertainty', 60, 450, 25, false, true);
addLabel('Predicted', 29, 297, 39, true, true);
addLabel('Observed', 612, 597, 39, true, false, 1.12);
</script>
</body>
</html>
